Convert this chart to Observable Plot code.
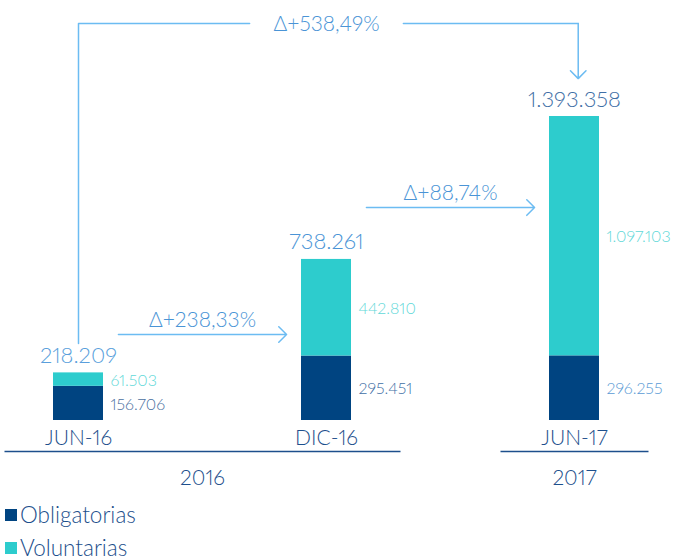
<!DOCTYPE html>
<html>
<head>
<meta charset="utf-8">
<script src="https://cdn.jsdelivr.net/npm/d3@7"></script>
<script src="https://cdn.jsdelivr.net/npm/@observablehq/plot@0.6"></script>
<style>
  html, body { margin: 0; padding: 0; background: #fff; }
  body { width: 675px; height: 560px; overflow: hidden; font-family: Lato, "Open Sans", sans-serif; }
  #chart svg { display: block; font-variant-numeric: proportional-nums; }
  .legend { position: relative; height: 65px; }
  .item { position: absolute; left: 5px; display: flex; align-items: center; font-size: 22.5px; line-height: 26px; font-weight: 300; color: #1d4f8c; }
  .sw { width: 12px; height: 12px; margin-right: 3px; }
</style>
</head>
<body>
<div id="chart"></div>
<div class="legend" id="legend"></div>
<script>
// ---- data ----
const periods = ["JUN-16", "DIC-16", "JUN-17"];
const years = ["2016", "2017"];
const yearPeriods = [["JUN-16", "DIC-16"], ["JUN-17"]];
const series = ["Obligatorias", "Voluntarias"];
const obligatorias = [156706, 295451, 296255];
const voluntarias = [61503, 442810, 1097103];
const totals = [218209, 738261, 1393358];
const changes = ["Δ+238,33%", "Δ+88,74%"];
const totalChange = "Δ+538,49%";

// ---- styles ----
const colors = {Obligatorias: "#004481", Voluntarias: "#2dcccd"};
const totalColors = ["#5a9fdc", "#4a94d6", "#3f6fa6"];
const oblLabelColors = ["#4a6fa0", "#3f6fa6", "#5b9bd5"];
const volLabelColor = "#5fd8d8";
const arrowColor = "#6cbcf2";
const navyText = "#1d4f8c";
const HALF = 25 / 248; // half bar width in category steps

const fmt = v => d3.format(",")(v).replace(/,/g, ".");

const rows = [];
periods.forEach((p, i) => {
  rows.push({i, period: p, series: "Obligatorias", y1: 0, y2: obligatorias[i], value: obligatorias[i]});
  rows.push({i, period: p, series: "Voluntarias", y1: obligatorias[i], y2: obligatorias[i] + voluntarias[i], value: voluntarias[i]});
});
const tot = periods.map((p, i) => ({i, period: p, total: totals[i]}));
const arrows = changes.map((c, k) => ({from: k, to: k + 1, label: c, y: k === 0 ? 394000 : 976000}));
const groups = years.map((y, k) => ({
  label: y,
  a: periods.indexOf(yearPeriods[k][0]),
  b: periods.indexOf(yearPeriods[k][yearPeriods[k].length - 1])
}));

const TOPY = 1820000, STARTY = 353000, TIPY = 1567000;
const GAP = 0.31;
const bigLeft = [{x: 0, y: STARTY}, {x: 0, y: TOPY}, {x: 1 - GAP, y: TOPY}];
const bigRight = [{x: 1 + GAP, y: TOPY}, {x: 2.015, y: TOPY}];

const font = "Lato, 'Open Sans', sans-serif";

const chart = Plot.plot({
  width: 675,
  height: 495,
  margin: 0,
  style: {fontFamily: font, fontWeight: 300, background: "#fff"},
  x: {type: "linear", domain: [0, 2], range: [78, 574], axis: null},
  y: {domain: [0, 1393358], range: [420, 116], axis: null},
  color: {domain: series, range: series.map(s => colors[s])},
  marks: [
    Plot.rect(rows, {x1: d => d.i - HALF, x2: d => d.i + HALF, y1: "y1", y2: "y2", fill: "series"}),
    // segment labels
    Plot.text(rows, {
      x: "i", y: d => (d.y1 + d.y2) / 2, text: d => fmt(d.value),
      textAnchor: "start", dx: 32, dy: 1, fontSize: 16, fontWeight: 300,
      fill: d => d.series === "Obligatorias" ? oblLabelColors[d.i] : volLabelColor
    }),
    // totals
    Plot.text(tot, {x: "i", y: "total", text: d => fmt(d.total), dy: -17, fontSize: 22, fontWeight: 300,
      fill: d => totalColors[d.i]}),
    // category labels
    Plot.text(periods, {x: (d, i) => i, y: () => 0, text: d => d, dy: 18, fontSize: 21, fontWeight: 300, fill: navyText}),
    // year group rules
    Plot.link(groups, {x1: d => d.a - 74 / 248, x2: d => d.b + 74 / 248, y1: () => 0, y2: () => 0, dy: 31, stroke: navyText, strokeWidth: 1.5}),
    Plot.text(groups, {x: d => (d.a + d.b) / 2, y: () => 0, text: "label", dy: 58, fontSize: 21, fontWeight: 300, fill: navyText}),
    // change arrows
    Plot.arrow(arrows, {x1: d => d.from + 0.161, x2: d => d.to - 0.161, y1: "y", y2: "y",
      stroke: arrowColor, strokeWidth: 1.5, headAngle: 90, headLength: 11}),
    Plot.text(arrows, {x: d => (d.from + d.to) / 2, y: "y", text: "label", dy: -14, fontSize: 21, fontWeight: 300, fill: "#4a94d6"}),
    // overall change
    Plot.line(bigLeft, {x: "x", y: "y", stroke: arrowColor, strokeWidth: 1.5}),
    Plot.line(bigRight, {x: "x", y: "y", stroke: arrowColor, strokeWidth: 1.5}),
    Plot.arrow([{x: 2.015, y1: TOPY, y2: TIPY}], {x: "x", y1: "y1", y2: "y2", stroke: arrowColor, strokeWidth: 1.5, headAngle: 90, headLength: 11}),
    Plot.text([totalChange], {x: () => 1, y: () => TOPY, text: d => d, dy: 1, fontSize: 21, fontWeight: 300, fill: "#4a94d6"})
  ]
});
document.getElementById("chart").appendChild(chart);

const legend = document.getElementById("legend");
series.forEach((s, k) => {
  const it = document.createElement("div");
  it.className = "item";
  it.style.top = (k === 0 ? 7 : 40) + "px";
  it.innerHTML = `<span class="sw" style="background:${colors[s]}"></span><span>${s}</span>`;
  legend.appendChild(it);
});
</script>
</body>
</html>
